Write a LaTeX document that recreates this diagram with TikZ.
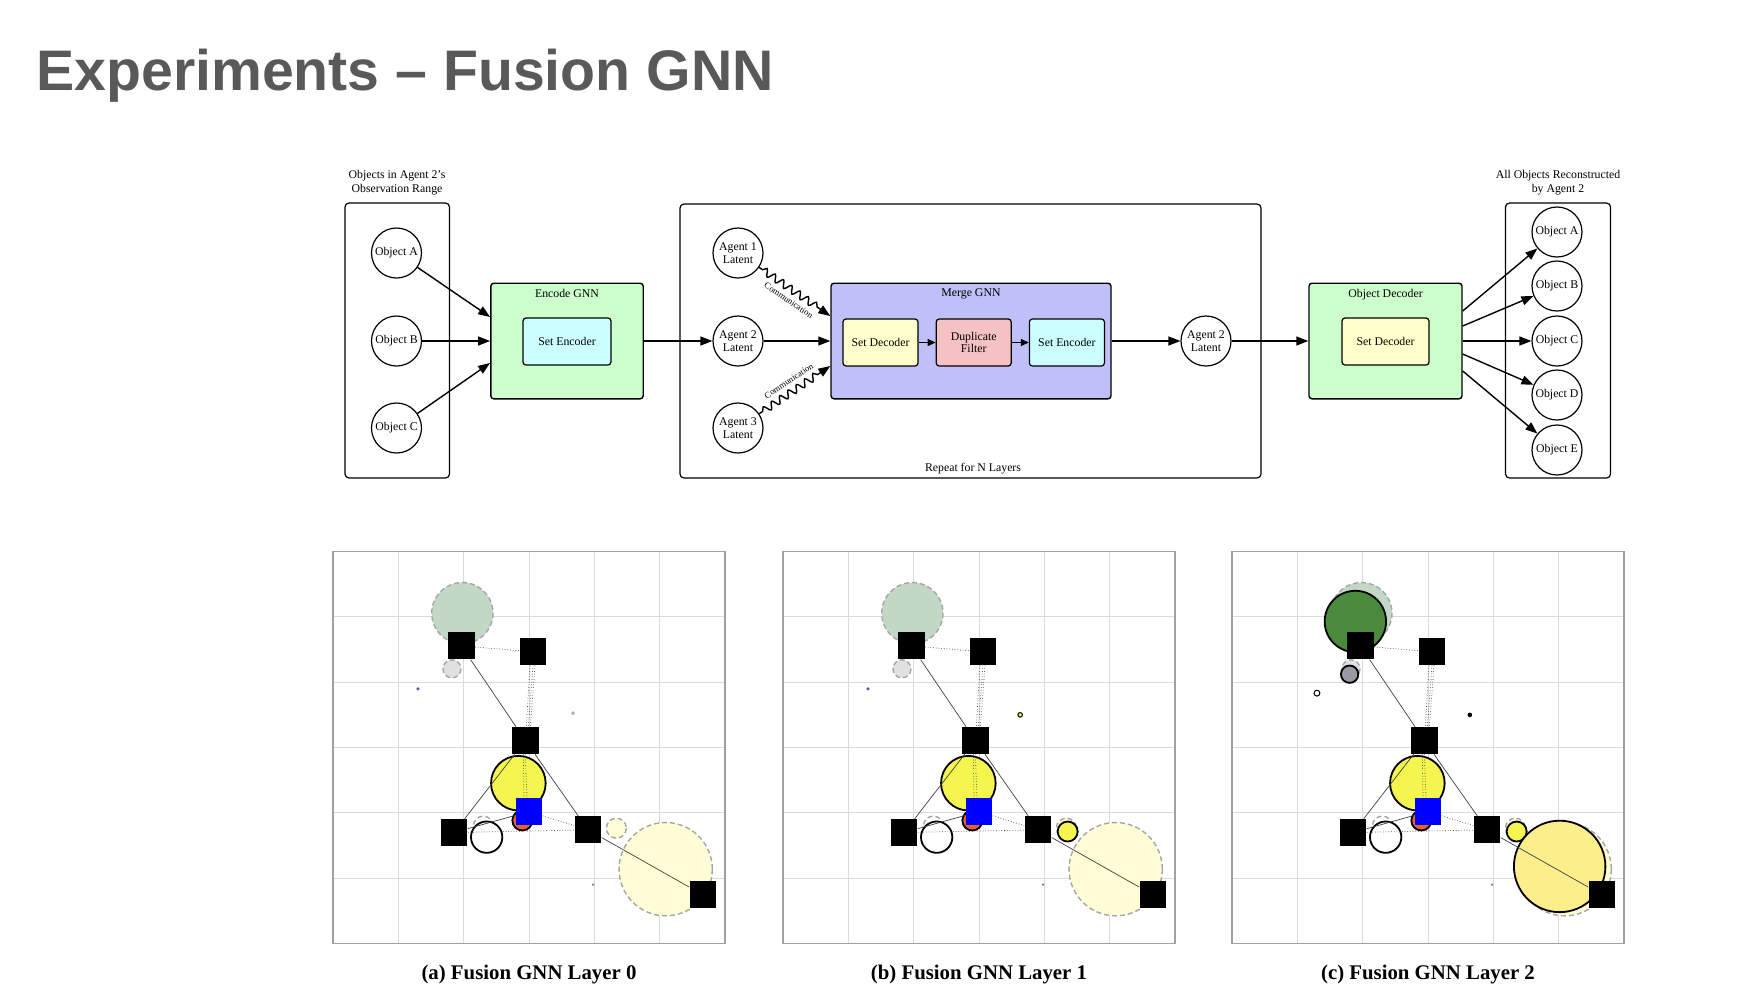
\documentclass[tikz,border=0pt]{standalone}
\usepackage{fontspec}
\setmainfont{Liberation Serif}
\newfontfamily\titlefont{Liberation Sans}
\usetikzlibrary{arrows.meta, shapes, positioning, decorations.pathmorphing}

\definecolor{titlegray}{RGB}{89,89,89}
\definecolor{gnngreen}{RGB}{204,255,204}
\definecolor{setcyan}{RGB}{204,255,255}
\definecolor{decyellow}{RGB}{255,255,204}
\definecolor{dupred}{RGB}{244,194,194}
\definecolor{mergeblue}{RGB}{192,192,248}
\definecolor{gridgray}{RGB}{218,218,218}
\definecolor{framegray}{RGB}{160,160,160}
\definecolor{dashgray}{RGB}{165,165,165}
\definecolor{ghostgreen}{RGB}{194,216,196}
\definecolor{ghostgray}{RGB}{224,224,226}
\definecolor{ghostyellow}{RGB}{255,253,214}
\definecolor{estyellow}{RGB}{245,245,80}
\definecolor{estorange}{RGB}{232,96,44}
\definecolor{estgreen}{RGB}{74,138,60}
\definecolor{estgray}{RGB}{154,154,166}
\definecolor{estpale}{RGB}{252,238,138}

\tikzset{
  obj/.style = {draw, circle, line width=0.6pt, minimum size=25pt, inner sep=0pt, align=center,
    font=\fontsize{5.9}{6.3}\selectfont},
  gnnbox/.style = {draw, rounded corners=1.5pt, line width=0.7pt, minimum height=57.8pt},
  inbox/.style = {draw, rounded corners=1.5pt, line width=0.6pt, minimum height=23.5pt, align=center,
    inner sep=1pt, font=\fontsize{5.9}{6.3}\selectfont},
  boxlbl/.style = {anchor=north, inner sep=1pt, font=\fontsize{5.9}{6.3}\selectfont},
  smalltxt/.style = {align=center, inner sep=0pt, font=\fontsize{5.9}{7}\selectfont},
  frame/.style = {line width=0.6pt, rounded corners=2pt},
  arr/.style = {-{Triangle[length=6pt, width=4.5pt]}, line width=0.7pt},
  arrsmall/.style = {-{Triangle[length=4pt, width=3.5pt]}, line width=0.7pt},
  comm/.style = {arr, decorate,
    decoration = {snake, segment length=5pt, amplitude=1.8pt, pre length=2pt, post length=7pt}},
  commtxt/.style = {font=\fontsize{4.4}{5}\selectfont, inner sep=3.5pt},
  capt/.style = {font=\bfseries\fontsize{10.4}{12}\selectfont},
  panel/.style = {shift={(#1,551.5)}, x=32.667pt, y=-32.667pt},
  gridline/.style = {gridgray, line width=0.5pt},
  plotframe/.style = {framegray, line width=0.7pt},
  ghost/.style = {draw=dashgray, line width=0.7pt, dash pattern=on 2.5pt off 1.5pt},
  est/.style = {draw=black, line width=0.9pt},
  agentsq/.style = {fill=black, minimum size=13.4pt, inner sep=0pt},
  link/.style = {black!75, line width=0.35pt},
  linkd/.style = {link, densely dotted}
}

\begin{document}
\begin{tikzpicture}[x=0.5pt, y=-0.5pt]

  \useasboundingbox (0,0) rectangle (1756,998);

  %% Title
  \node[anchor=base west, inner sep=0pt, text=titlegray,
    font=\titlefont\bfseries\fontsize{28.6}{30}\selectfont] (title) at (36,90) {Experiments – Fusion GNN};

  %% Fusion GNN pipeline

  % Observed objects
  \draw[frame] (345,203) rectangle (449.5,478);
  \node[smalltxt] (rangecap) at (397,183) {Objects in Agent 2’s\\Observation Range};
  \node[obj] (objA) at (396.5,253) {Object A};
  \node[obj] (objB) at (396.5,341) {Object B};
  \node[obj] (objC) at (396.5,428) {Object C};

  % Encode GNN
  \node[gnnbox, fill=gnngreen, minimum width=76.2pt] (enc) at (567,341) {};
  \node[boxlbl] at ([yshift=-2pt]enc.north) {Encode GNN};
  \node[inbox, fill=setcyan, minimum width=44pt] (setenc) at (567,341.5) {Set Encoder};

  \draw[arr] (objA) -- ([yshift=12pt]enc.west);
  \draw[arr] (objB) -- (enc.west);
  \draw[arr] (objC) -- ([yshift=-11pt]enc.west);

  % Repeated layers
  \draw[frame] (680,204) rectangle (1261,478);
  \node[smalltxt] (repeat) at (973,469) {Repeat for N Layers};
  \node[obj] (lat1) at (738,253) {Agent 1\\Latent};
  \node[obj] (lat2) at (738,341) {Agent 2\\Latent};
  \node[obj] (lat3) at (738,428) {Agent 3\\Latent};

  \node[gnnbox, fill=mergeblue, minimum width=140pt] (merge) at (971,341) {};
  \node[boxlbl] at ([yshift=-2pt]merge.north) {Merge GNN};
  \node[inbox, fill=decyellow, minimum width=37.5pt] (mdec) at (880.5,342.5) {Set Decoder};
  \node[inbox, fill=dupred, minimum width=37.5pt, right=8.5pt of mdec] (dup) {Duplicate\\Filter};
  \node[inbox, fill=setcyan, minimum width=37.5pt, right=8.5pt of dup] (menc) {Set Encoder};

  \draw[arr] (enc) -- (lat2);
  \draw[arr] (lat2) -- (merge);
  \draw[comm] (lat1) -- ([yshift=12.5pt]merge.west) node[midway, sloped, below, commtxt] {Communication};
  \draw[comm] (lat3) -- ([yshift=-12.5pt]merge.west) node[midway, sloped, above, commtxt] {Communication};
  \draw[arrsmall] (mdec) -- (dup);
  \draw[arrsmall] (dup) -- (menc);

  \node[obj] (latout) at (1206,341) {Agent 2\\Latent};
  \draw[arr] (merge) -- (latout);

  % Object decoder
  \node[gnnbox, fill=gnngreen, minimum width=76.5pt] (objdec) at (1385.5,341) {};
  \node[boxlbl] at ([yshift=-2pt]objdec.north) {Object Decoder};
  \node[inbox, fill=decyellow, minimum width=43.5pt] (odec) at (1385.5,341.5) {Set Decoder};
  \draw[arr] (latout) -- (objdec);

  % Reconstructed objects
  \draw[frame] (1505.5,203) rectangle (1610.5,478);
  \node[smalltxt] (reccap) at (1558,183) {All Objects Reconstructed\\by Agent 2};
  \foreach \n/\y/\s in {A/232/15, B/286/7.5, C/341/0, D/395/-6.5, E/450/-15}{
    \node[obj] (out\n) at (1557,\y) {Object \n};
    \draw[arr] ([yshift=\s pt]objdec.east) -- (out\n);
  }

  %% Layer plots
  \foreach \i/\px/\tag in {0/333/a, 1/783/b, 2/1232/c}{
    \begin{scope}[panel=\px]
      % grid
      \foreach \g in {1,...,5}{
        \draw[gridline] (\g,0) -- (\g,6);
        \draw[gridline] (0,\g) -- (6,\g);
      }
      \draw[plotframe] (0,0) rectangle (6,6);

      % ground truth
      \draw[ghost, fill=ghostgreen] (1.98,0.944) circle (0.469);
      \draw[ghost, fill=ghostgray] (1.821,1.796) circle (0.138);
      \draw[ghost, fill=ghostyellow] (4.337,4.235) circle (0.153);
      \draw[ghost, fill=ghostyellow] (5.092,4.862) circle (0.714);
      \draw[ghost, fill=white] (2.30,4.20) circle (0.15);

      % estimates
      \draw[est, fill=estyellow] (2.837,3.546) circle (0.418);
      \draw[est, fill=estorange] (2.898,4.117) circle (0.153);
      \draw[est, fill=white] (2.352,4.372) circle (0.24);
      \fill[gray] (3.98,5.10) circle (0.02);
      \ifnum\i>0
        \draw[est, fill=estyellow] (4.357,4.286) circle (0.153);
      \fi
      \ifcase\i
        \fill[black!30!ghostyellow] (3.673,2.474) circle (0.03);
        \fill[blue!30!gray] (1.301,2.102) circle (0.028);
      \or
        \draw[line width=0.5pt, fill=estyellow] (3.63,2.50) circle (0.035);
        \fill[blue!30!gray] (1.301,2.102) circle (0.028);
      \or
        \fill (3.64,2.50) circle (0.035);
        \draw[line width=0.5pt, fill=white] (1.30,2.168) circle (0.045);
        \draw[est, fill=estgreen] (1.888,1.071) circle (0.47);
        \draw[est, fill=estgray] (1.80,1.878) circle (0.133);
        \draw[est, fill=estpale] (5.015,4.82) circle (0.70);
      \fi

      % agents
      \node[agentsq] (s1-\i) at (1.964,1.444) {};
      \node[agentsq] (s2-\i) at (3.061,1.536) {};
      \node[agentsq] (s3-\i) at (2.944,2.893) {};
      \node[agentsq] (s4-\i) at (1.852,4.301) {};
      \node[agentsq] (s5-\i) at (3.903,4.260) {};
      \node[agentsq] (s6-\i) at (5.663,5.255) {};
      \node[agentsq, fill=blue] (ego-\i) at (3.0,3.98) {};

      % links
      \draw[linkd] (s1-\i) -- (s2-\i);
      \draw[link] (s1-\i) -- (s3-\i);
      \draw[linkd] ([xshift=-1.5pt]s2-\i.south) -- ([xshift=0.5pt]s3-\i.north);
      \draw[linkd] (s2-\i.south) -- ([xshift=1.5pt]s3-\i.north);
      \draw[linkd] ([xshift=1pt]s2-\i.south) -- ([xshift=2.5pt]s3-\i.north);
      \draw[linkd] ([xshift=-1pt]s3-\i.south) -- ([xshift=-2.5pt]ego-\i.north);
      \draw[linkd] (s3-\i.south) -- ([xshift=-1pt]ego-\i.north);
      \draw[link] (s3-\i) -- (s4-\i);
      \draw[link] (s3-\i) -- (s5-\i);
      \draw[linkd] (s4-\i) -- (s5-\i);
      \draw[link] (s4-\i) -- (ego-\i);
      \draw[linkd] (ego-\i) -- (s5-\i);
      \draw[link] (s5-\i) -- (s6-\i);
    \end{scope}
    \node[capt] (cap-\i) at (\px+196,975) {(\tag) Fusion GNN Layer \i};
  }

\end{tikzpicture}
\end{document}
